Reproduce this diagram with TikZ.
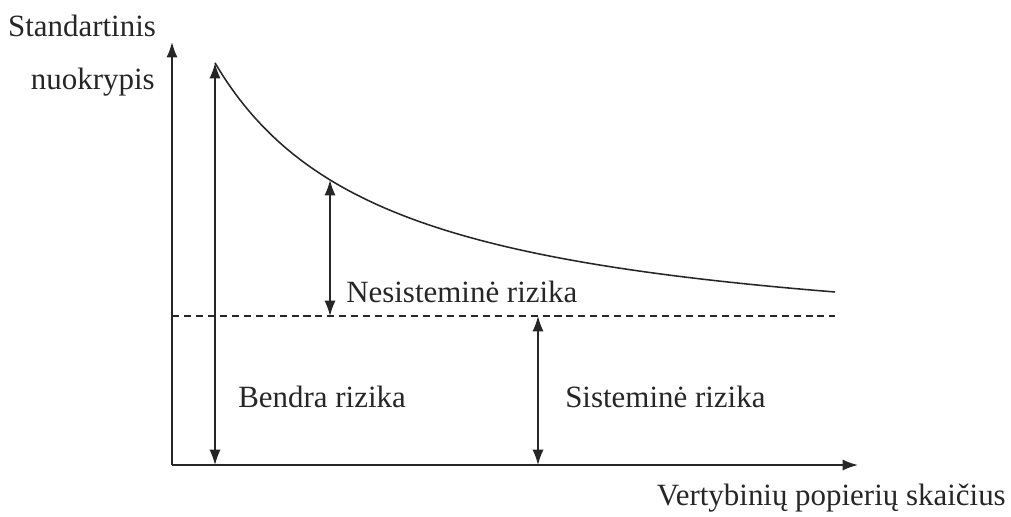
\documentclass[tikz,border=0pt]{standalone}
\usepackage{fontspec}
\setmainfont{Liberation Serif}
\usetikzlibrary{arrows.meta}

\tikzset{
  axisline/.style={line width=1.3pt, draw=black!85, -{Latex[length=11pt,width=8pt]}},
  riskarrow/.style={line width=1.1pt, draw=black!85, {Latex[length=11pt,width=8pt]}-{Latex[length=11pt,width=8pt]}},
  lbl/.style={inner sep=0pt, text=black!85, font=\fontsize{22}{26}\selectfont}
}

\begin{document}
\begin{tikzpicture}[x=0.025cm, y=-0.025cm]
  % picture frame, in pixels of the reference
  \useasboundingbox (0,0) rectangle (1011,516);

  % axes
  \coordinate (origin) at (172,465);
  \coordinate (ytop) at (172,42);
  \coordinate (xend) at (858,465);
  \draw[axisline] (origin) -- (ytop);
  \draw[axisline] (origin) -- (xend);

  % axis labels
  \node[lbl] (ylabA) at (82,26) {Standartinis};
  \node[lbl, anchor=east] (ylabB) at (155,82) {nuokrypis};
  \node[lbl, anchor=east] (xlab) at (1006,498) {Vertybinių popierių skaičius};

  % risk curve (hyperbola falling towards the dashed line)
  \coordinate (cstart) at (215,63);
  \coordinate (cmid) at (330,180);
  \draw[line width=1.1pt, black!85] plot[domain=215:835, samples=80, smooth]
    (\x, {355.9 - 506.93/((\x-42)/100)});

  % dashed line of systematic risk
  \coordinate (dstart) at (172,316);
  \coordinate (dend) at (835,316);
  \draw[line width=0.9pt, black!85, dash pattern=on 5pt off 3.5pt] (dstart) -- (dend);

  % total risk
  \coordinate (tbot) at (215,465);
  \draw[riskarrow] (tbot) -- (cstart);
  \node[lbl, anchor=west] (total) at (238,397) {Bendra rizika};

  % unsystematic risk
  \coordinate (ubot) at (330,316);
  \draw[riskarrow] (ubot) -- (cmid);
  \node[lbl, anchor=west] (unsys) at (346,292) {Nesisteminė rizika};

  % systematic risk
  \coordinate (stop) at (538,316);
  \coordinate (sbot) at (538,465);
  \draw[riskarrow] (sbot) -- (stop);
  \node[lbl, anchor=west] (sys) at (565,397) {Sisteminė rizika};
\end{tikzpicture}
\end{document}
